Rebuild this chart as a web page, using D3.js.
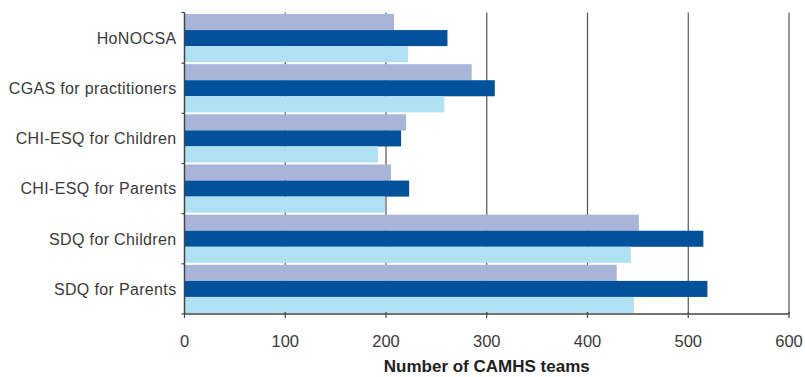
<!DOCTYPE html>
<html><head><meta charset="utf-8">
<script src="https://cdn.jsdelivr.net/npm/d3@7"></script>
<style>body{margin:0;background:#fff}svg{display:block}</style>
</head><body>
<script>
const categories = ["HoNOCSA","CGAS for practitioners","CHI-ESQ for Children","CHI-ESQ for Parents","SDQ for Children","SDQ for Parents"];
const seriesNames = ["Series A","Series B","Series C"];
const seriesA = [208, 285, 220, 205, 451, 429];
const seriesB = [261, 308, 215, 223, 515, 519];
const seriesC = [222, 258, 192, 199, 443, 446];
const xTicks = [0,100,200,300,400,500,600];
const colors = ["#a8b5d9","#02529b","#b0e1f2"];

const W=805,H=377;
const m={left:184.5,right:16,top:13,bottom:63};
const svg=d3.select("body").append("svg").attr("width",W).attr("height",H);
const x=d3.scaleLinear().domain([0,600]).range([m.left,W-m.right]);
const y=d3.scaleBand().domain(categories).range([m.top,H-m.bottom]).paddingInner(0.04).paddingOuter(0.02);
const y1=d3.scaleBand().domain(seriesNames).range([0,y.bandwidth()]);
const font="'Liberation Sans', Arial, sans-serif";

// gridlines
svg.append("g").selectAll("line").data(xTicks.slice(1)).join("line")
  .attr("x1",d=>x(d)).attr("x2",d=>x(d)).attr("y1",m.top-0.5).attr("y2",H-m.bottom)
  .attr("stroke","#555").attr("stroke-width",1.2);

const data=[seriesA,seriesB,seriesC];
const g=svg.append("g");
categories.forEach((c,i)=>{
  seriesNames.forEach((s,j)=>{
    g.append("rect").attr("x",x(0)).attr("y",y(c)+y1(s))
     .attr("width",x(data[j][i])-x(0)).attr("height",y1.bandwidth())
     .attr("fill",colors[j]);
  });
});

// y axis
const ya=svg.append("g").attr("transform",`translate(${x(0)},0)`);
ya.append("line").attr("x1",0).attr("x2",0).attr("y1",m.top-0.5).attr("y2",H-m.bottom).attr("stroke","#444").attr("stroke-width",1.5);
const yb=[m.top-0.5].concat(categories.map(c=>y(c)+y.bandwidth()+y.step()*y.paddingInner()/2));
ya.selectAll("line.t").data(yb).join("line").attr("class","t")
  .attr("x1",-3).attr("x2",0).attr("y1",d=>d).attr("y2",d=>d).attr("stroke","#444").attr("stroke-width",1.2);
ya.selectAll("text").data(categories).join("text")
  .attr("x",-8).attr("y",c=>y(c)+y.bandwidth()/2).attr("dy","0.36em")
  .attr("text-anchor","end").attr("font-family",font).attr("font-size",16).attr("letter-spacing","0.35px")
  .attr("fill","#3a3a3a").text(d=>d);

// x axis
const xa=svg.append("g").attr("transform",`translate(0,${H-m.bottom})`);
xa.append("line").attr("x1",x(0)).attr("x2",x(600)).attr("stroke","#444").attr("stroke-width",1.5);
xa.selectAll("line.t").data(xTicks).join("line").attr("class","t")
  .attr("x1",d=>x(d)).attr("x2",d=>x(d)).attr("y1",-2).attr("y2",4).attr("stroke","#444").attr("stroke-width",1.2);
xa.selectAll("text").data(xTicks).join("text")
  .attr("x",d=>x(d)).attr("y",33).attr("text-anchor","middle")
  .attr("font-family",font).attr("font-size",16.5).attr("fill","#3a3a3a").text(d=>d);

svg.append("text").attr("x",x(300)).attr("y",372).attr("text-anchor","middle")
  .attr("font-family",font).attr("font-size",17).attr("font-weight","bold").attr("fill","#222")
  .text("Number of CAMHS teams");
</script>
</body></html>
